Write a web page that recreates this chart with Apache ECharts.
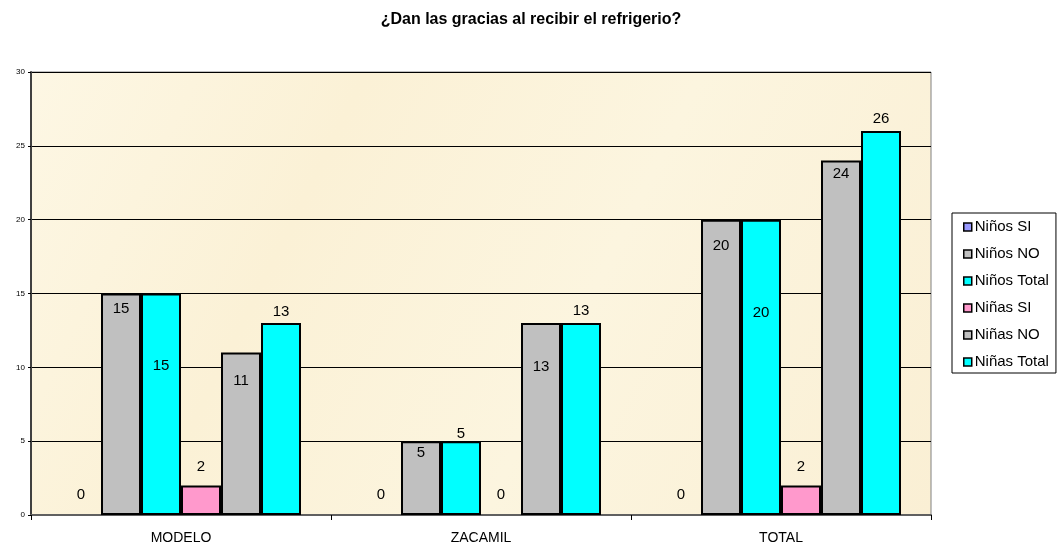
<!DOCTYPE html>
<html>
<head>
<meta charset="utf-8">
<script src="https://cdn.jsdelivr.net/npm/echarts@6/dist/echarts.min.js"></script>
<style>
html,body{margin:0;padding:0;background:#fff;}
#c{width:1062px;height:548px;}
</style>
</head>
<body>
<div id="c"></div>
<script>
var categories = ['MODELO', 'ZACAMIL', 'TOTAL'];
var seriesNames = ['Niños SI', 'Niños NO', 'Niños Total', 'Niñas SI', 'Niñas NO', 'Niñas Total'];
var ninosSi = [0, 0, 0];
var ninosNo = [15, 5, 20];
var ninosTotal = [15, 5, 20];
var ninasSi = [2, 0, 2];
var ninasNo = [11, 13, 24];
var ninasTotal = [13, 13, 26];
var yTicks = [0, 5, 10, 15, 20, 25, 30];

var seriesValues = [ninosSi, ninosNo, ninosTotal, ninasSi, ninasNo, ninasTotal];
var seriesColors = ['#9999FF', '#C0C0C0', '#00FFFF', '#FF99CC', '#C0C0C0', '#00FFFF'];
// label vertical placement (px from bar top), style only
var labelDy = [
  [-20, -20, -20],
  [15, 12, 26],
  [72, -7, 93],
  [-19, -20, -19],
  [28, 44, 13],
  [-11, -12, -12]
];

var font = '"Liberation Sans", Arial, sans-serif';
var chart = echarts.init(document.getElementById('c'), null, {renderer: 'canvas'});

var series = seriesNames.map(function (name, si) {
  return {
    name: name,
    type: 'bar',
    barGap: '0%',
    barCategoryGap: '20%',
    itemStyle: {color: seriesColors[si], borderColor: '#000', borderWidth: 2},
    data: seriesValues[si].map(function (v, ci) {
      return {
        value: v,
        itemStyle: v === 0 ? {borderWidth: 0} : undefined,
        label: {
          show: true,
          position: ['50%', labelDy[si][ci]],
          align: 'center',
          verticalAlign: 'middle',
          color: '#000',
          fontSize: 15,
          fontFamily: font
        }
      };
    })
  };
});

chart.setOption({
  animation: false,
  backgroundColor: '#ffffff',
  title: {
    text: '¿Dan las gracias al recibir el refrigerio?',
    left: 'center',
    top: 7,
    textStyle: {fontSize: 16, fontWeight: 'bold', color: '#000', fontFamily: font}
  },
  legend: {
    orient: 'vertical',
    left: 952,
    top: 213,
    padding: [6, 7, 3, 11],
    itemGap: 11,
    itemWidth: 8,
    itemHeight: 8,
    icon: 'rect',
    borderColor: '#000',
    borderWidth: 1,
    itemStyle: {borderWidth: 1.5, borderColor: '#000'},
    textStyle: {fontSize: 15, lineHeight: 16, color: '#000', fontFamily: font, padding: [0, 0, 0, -2]},
    data: seriesNames
  },
  grid: {
    left: 31,
    right: 131,
    top: 72,
    bottom: 33,
    show: true,
    borderColor: '#808080',
    borderWidth: 1,
    backgroundColor: new echarts.graphic.LinearGradient(0, 0, 1, 1, [
      {offset: 0, color: '#FDF7E4'},
      {offset: 0.3, color: '#FBF1D6'},
      {offset: 0.6, color: '#FCF5DF'},
      {offset: 1, color: '#FAEFD4'}
    ])
  },
  xAxis: {
    type: 'category',
    data: categories,
    axisLine: {lineStyle: {color: '#606060', width: 2}},
    axisTick: {show: true, length: 5, lineStyle: {color: '#000'}},
    axisLabel: {fontSize: 14, color: '#000', fontFamily: font, margin: 16}
  },
  yAxis: {
    type: 'value',
    min: yTicks[0],
    max: yTicks[yTicks.length - 1],
    interval: yTicks[1] - yTicks[0],
    axisLine: {show: true, lineStyle: {color: '#404040', width: 2}},
    axisTick: {show: true, length: 3, lineStyle: {color: '#000'}},
    axisLabel: {fontSize: 8, color: '#000', fontFamily: font, margin: 6},
    splitLine: {show: true, lineStyle: {color: '#000', width: 1}}
  },
  series: series
});
</script>
</body>
</html>
